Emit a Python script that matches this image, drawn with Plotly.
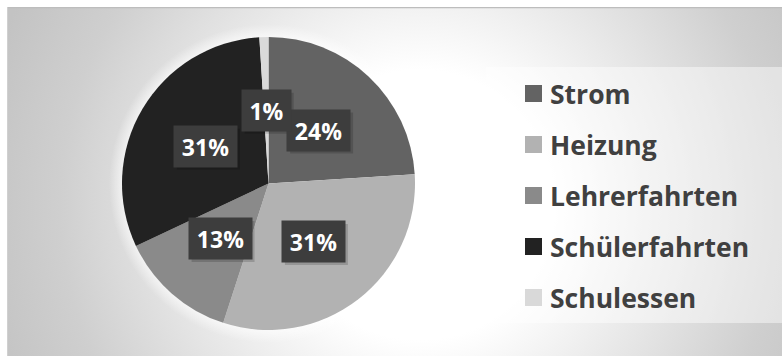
import math
import plotly.graph_objects as go

# ---- data ----
categories = ["Strom", "Heizung", "Lehrerfahrten", "Schülerfahrten", "Schulessen"]
values = [24, 31, 13, 31, 1]
slice_colors = ["#636363", "#b2b2b2", "#8a8a8a", "#222222", "#d9d9d9"]

# ---- layout constants (pixels) ----
W, H = 782, 356
X0, Y0 = 7, 7  # chart area top-left
PIE_CX, PIE_CY, PIE_R = 268.5, 183.5, 146.5
FONT = "Open Sans"

fig = go.Figure()

# background chart area with radial gradient (square so gradient is circular)
BG_CX, BG_CY, BG_R = 420, 205, 450
fig.add_trace(go.Scatter(
    x=[BG_CX - BG_R, BG_CX + BG_R, BG_CX + BG_R, BG_CX - BG_R, BG_CX - BG_R],
    y=[BG_CY - BG_R, BG_CY - BG_R, BG_CY + BG_R, BG_CY + BG_R, BG_CY - BG_R],
    mode="lines", fill="toself", line=dict(width=0, color="rgba(0,0,0,0)"),
    fillgradient=dict(type="radial",
                      colorscale=[[0, "#ffffff"], [0.3, "#ffffff"], [0.8, "#cfcfcf"], [1, "#c3c3c3"]]),
    hoverinfo="skip", showlegend=False,
))

# soft glow around the pie
G = 13
fig.add_trace(go.Scatter(
    x=[PIE_CX - PIE_R - G, PIE_CX + PIE_R + G, PIE_CX + PIE_R + G, PIE_CX - PIE_R - G, PIE_CX - PIE_R - G],
    y=[PIE_CY - PIE_R - G, PIE_CY - PIE_R - G, PIE_CY + PIE_R + G, PIE_CY + PIE_R + G, PIE_CY - PIE_R - G],
    mode="lines", fill="toself", line=dict(width=0, color="rgba(0,0,0,0)"),
    fillgradient=dict(type="radial",
                      colorscale=[[0, "rgba(255,255,255,0.6)"], [PIE_R / (PIE_R + G), "rgba(255,255,255,0.6)"],
                                  [1, "rgba(255,255,255,0)"]]),
    hoverinfo="skip", showlegend=False,
))

# pie
dom_x = [(PIE_CX - PIE_R) / W, (PIE_CX + PIE_R) / W]
dom_y = [1 - (PIE_CY + PIE_R) / H, 1 - (PIE_CY - PIE_R) / H]
fig.add_trace(go.Pie(
    labels=categories, values=values, sort=False, direction="clockwise", rotation=0,
    marker=dict(colors=slice_colors, line=dict(width=0)),
    textinfo="none", hoverinfo="label+percent", showlegend=False,
    domain=dict(x=dom_x, y=dom_y),
))

shapes = []
annotations = []

# top/left border line of chart area
shapes.append(dict(type="line", xref="x", yref="y", x0=X0, x1=W, y0=X0 + 0.5, y1=Y0 + 0.5,
                   line=dict(color="#bdbdbd", width=1.5), layer="above"))
shapes.append(dict(type="line", xref="x", yref="y", x0=X0 + 0.5, x1=X0 + 0.5, y0=Y0, y1=H,
                   line=dict(color="#d0d0d0", width=1), layer="above"))

# data labels (computed from the values)
total = sum(values)
cum = 0.0
for cat, v in zip(categories, values):
    mid = (cum + v / 2) / total * 2 * math.pi
    cum += v
    lx = PIE_CX + 0.5 * PIE_R * math.sin(mid)
    ly = PIE_CY - 0.5 * PIE_R * math.cos(mid)
    pct = f"{round(v / total * 100)}%"
    bw = 14 * len(pct) + 19
    shapes.append(dict(type="rect", xref="x", yref="y",
                       x0=lx - bw / 2 - 1 + 3, x1=lx + bw / 2 + 1 + 3,
                       y0=ly - 20.5 + 3, y1=ly + 20.5 + 3,
                       fillcolor="rgba(0,0,0,0.16)", line=dict(width=0), layer="above"))
    annotations.append(dict(x=lx, y=ly, xref="x", yref="y", text=pct,
                            showarrow=False, width=bw, height=39, borderpad=1,
                            bgcolor="#3d3d3d", valign="middle", align="center",
                            font=dict(family=FONT, size=23, color="#ffffff", weight="bold")))

# legend box and entries
LEG_X0, LEG_Y0, LEG_X1, LEG_Y1 = 486, 67, W, 323
shapes.append(dict(type="rect", xref="x", yref="y", x0=LEG_X0, x1=LEG_X1, y0=LEG_Y0, y1=LEG_Y1,
                   fillcolor="rgba(255,255,255,0.45)", line=dict(width=0), layer="above"))
ITEM_Y0, ITEM_DY = 93.5, 51
for i, (cat, col) in enumerate(zip(categories, slice_colors)):
    yc = ITEM_Y0 + i * ITEM_DY
    shapes.append(dict(type="rect", xref="x", yref="y", x0=525, x1=542, y0=yc - 8.5, y1=yc + 8.5,
                       fillcolor=col, line=dict(width=0), layer="above"))
    annotations.append(dict(x=548, y=yc, xref="x", yref="y", text=cat, showarrow=False,
                            xanchor="left", yanchor="middle",
                            font=dict(family=FONT, size=26.5, color="#404040", weight="bold")))

fig.update_layout(
    width=W, height=H, margin=dict(l=0, r=0, t=0, b=0),
    paper_bgcolor="#ffffff", plot_bgcolor="rgba(0,0,0,0)",
    xaxis=dict(range=[X0, W], visible=False, fixedrange=True, domain=[X0 / W, 1]),
    yaxis=dict(range=[H, Y0], visible=False, fixedrange=True, domain=[0, 1 - Y0 / H]),
    shapes=shapes, annotations=annotations, showlegend=False,
)

fig.write_html("out.html")
